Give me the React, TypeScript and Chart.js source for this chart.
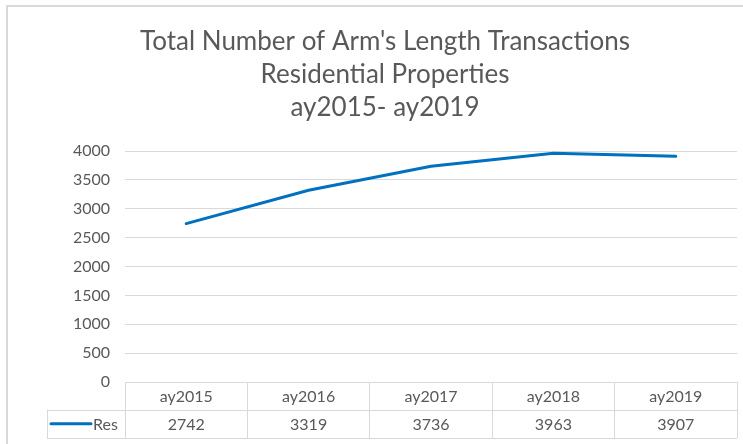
import React, { useEffect, useRef } from 'react';
import { Chart, registerables } from 'chart.js';

Chart.register(...registerables);

const titleLines = ["Total Number of Arm's Length Transactions", 'Residential Properties', 'ay2015- ay2019'];
const categories = ['ay2015', 'ay2016', 'ay2017', 'ay2018', 'ay2019'];
const seriesName = 'Res';
const resValues = [2742, 3319, 3736, 3963, 3907];
const yMin = 0;
const yMax = 4000;
const yStep = 500;

const FONT = 'Lato, "Open Sans", sans-serif';
const TEXT = '#595959';
const GRID = '#d9d9d9';
const LINE = '#0070C0';

const framePlugin = {
  id: 'frameAndTable',
  beforeDraw(chart: any) {
    const { ctx, width, height } = chart;
    ctx.save();
    ctx.fillStyle = '#ffffff';
    ctx.fillRect(0, 0, width, height);
    ctx.strokeStyle = GRID;
    ctx.lineWidth = 2;
    ctx.strokeRect(7, 6, width + 20, height + 20);
    ctx.restore();
  },
  afterDraw(chart: any) {
    const { ctx, chartArea } = chart;
    const x = chart.scales.x;
    ctx.save();
    // title
    ctx.fillStyle = TEXT;
    ctx.font = `26px ${FONT}`;
    ctx.textAlign = 'center';
    ctx.textBaseline = 'middle';
    titleLines.forEach((t, i) => ctx.fillText(t, 385, 42 + i * 33));

    // table
    const top = chartArea.bottom;
    const r1 = top + 27.5;
    const r2 = top + 56;
    const left = chartArea.left;
    const right = chartArea.right;
    const keyLeft = 47;
    const half = (x.getPixelForValue(1) - x.getPixelForValue(0)) / 2;
    ctx.strokeStyle = GRID;
    ctx.lineWidth = 1;
    ctx.beginPath();
    ctx.moveTo(left, top + 0.5);
    ctx.lineTo(right, top + 0.5);
    ctx.moveTo(keyLeft, Math.round(r1) + 0.5);
    ctx.lineTo(right, Math.round(r1) + 0.5);
    ctx.moveTo(keyLeft, Math.round(r2) + 0.5);
    ctx.lineTo(right, Math.round(r2) + 0.5);
    ctx.moveTo(keyLeft + 0.5, r1);
    ctx.lineTo(keyLeft + 0.5, r2);
    ctx.moveTo(Math.round(left) + 0.5, top);
    ctx.lineTo(Math.round(left) + 0.5, r2);
    categories.forEach((_, i) => {
      const bx = Math.floor(x.getPixelForValue(i) + half) + 0.5;
      ctx.moveTo(bx, top);
      ctx.lineTo(bx, r2);
    });
    ctx.stroke();

    ctx.fillStyle = TEXT;
    ctx.font = `16px ${FONT}`;
    ctx.textAlign = 'center';
    ctx.textBaseline = 'middle';
    categories.forEach((c, i) => {
      const cx = x.getPixelForValue(i);
      ctx.fillText(c, cx, (top + r1) / 2 + 1);
      ctx.fillText(String(resValues[i]), cx, (r1 + r2) / 2 + 1);
    });
    // legend key
    const ky = (r1 + r2) / 2;
    ctx.strokeStyle = LINE;
    ctx.lineWidth = 3;
    ctx.lineCap = 'round';
    ctx.beginPath();
    ctx.moveTo(51, ky);
    ctx.lineTo(91, ky);
    ctx.stroke();
    ctx.textAlign = 'left';
    ctx.fillText(seriesName, 93, ky + 1);
    ctx.restore();
  },
};

export default function App() {
  const ref = useRef<HTMLCanvasElement | null>(null);
  useEffect(() => {
    document.body.style.margin = '0';
    const chart = new Chart(ref.current as HTMLCanvasElement, {
      type: 'line',
      data: {
        labels: categories,
        datasets: [
          {
            label: seriesName,
            data: resValues,
            borderColor: LINE,
            backgroundColor: LINE,
            borderWidth: 3,
            pointRadius: 0,
            tension: 0,
            borderCapStyle: 'round',
          },
        ],
      },
      options: {
        animation: false,
        responsive: false,
        layout: { padding: { left: 0, right: 6, top: 151, bottom: 62 } },
        plugins: { legend: { display: false }, title: { display: false }, tooltip: { enabled: false } },
        scales: {
          x: { display: false, offset: true },
          y: {
            min: yMin,
            max: yMax,
            afterFit(scale: any) {
              scale.width = 125;
            },
            border: { display: false },
            grid: { color: GRID, drawTicks: false, lineWidth: 1 },
            ticks: {
              stepSize: yStep,
              padding: 15,
              color: TEXT,
              font: { family: FONT, size: 16 },
              callback: (v: any) => String(v),
            },
          },
        },
      },
      plugins: [framePlugin],
    });
    return () => chart.destroy();
  }, []);
  return <canvas ref={ref} width={743} height={444} style={{ display: 'block' }} />;
}
